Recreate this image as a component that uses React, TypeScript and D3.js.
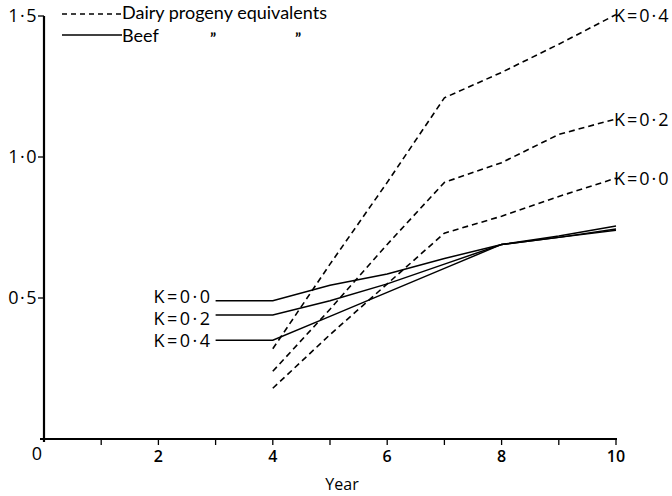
import React, { useEffect, useRef } from "react";
import * as d3 from "d3";

const years = [4, 5, 6, 7, 8, 9, 10];
const beefYears = [3, 4, 5, 6, 7, 8, 9, 10];

const dairyK00 = [0.18, 0.37, 0.55, 0.73, 0.79, 0.86, 0.925];
const dairyK02 = [0.24, 0.46, 0.69, 0.91, 0.98, 1.08, 1.135];
const dairyK04 = [0.32, 0.62, 0.91, 1.21, 1.3, 1.4, 1.505];

const beefK00 = [0.49, 0.49, 0.545, 0.585, 0.64, 0.69, 0.715, 0.74];
const beefK02 = [0.44, 0.44, 0.49, 0.55, 0.62, 0.69, 0.72, 0.755];
const beefK04 = [0.35, 0.35, 0.435, 0.52, 0.605, 0.69, 0.715, 0.745];

const dairyLabels = ["K=0·0", "K=0·2", "K=0·4"];
const beefLabels = ["K=0·0", "K=0·2", "K=0·4"];
const yTicks = [0.5, 1.0, 1.5];
const yTickLabels = ["0·5", "1·0", "1·5"];
const xTicks = [1, 2, 3, 4, 5, 6, 7, 8, 9, 10];
const xTickLabels = [2, 4, 6, 8, 10];

function App() {
  const ref = useRef<SVGSVGElement>(null);

  useEffect(() => {
    const svg = d3.select(ref.current);
    svg.selectAll("*").remove();
    const font = "'Open Sans', 'DejaVu Sans', sans-serif";
    const legendFont = "Lato, 'Open Sans', sans-serif";

    const x = d3.scaleLinear().domain([0, 10]).range([44, 616]);
    const y = d3.scaleLinear().domain([0, 1.5]).range([439, 16]);

    const g = svg.append("g");

    // axes
    g.append("line")
      .attr("x1", x(0)).attr("x2", x(0))
      .attr("y1", y(0) + 3).attr("y2", y(1.5))
      .attr("stroke", "#000").attr("stroke-width", 2.2);
    g.append("line")
      .attr("x1", x(0) - 4).attr("x2", x(10) + 1)
      .attr("y1", y(0)).attr("y2", y(0))
      .attr("stroke", "#000").attr("stroke-width", 2.2);

    g.selectAll(".ytick")
      .data(yTicks)
      .enter()
      .append("line")
      .attr("x1", x(0) - 6).attr("x2", x(0))
      .attr("y1", (d) => y(d)).attr("y2", (d) => y(d))
      .attr("stroke", "#000").attr("stroke-width", 1.3);
    g.selectAll(".ylab")
      .data(yTicks)
      .enter()
      .append("text")
      .attr("x", x(0) - 6)
      .attr("y", (d) => y(d) + 6)
      .attr("text-anchor", "end")
      .attr("font-family", font)
      .attr("font-size", 18)
      .attr("letter-spacing", 1.5)
      .text((d, i) => yTickLabels[i]);

    g.selectAll(".xtick")
      .data(xTicks)
      .enter()
      .append("line")
      .attr("x1", (d) => x(d)).attr("x2", (d) => x(d))
      .attr("y1", y(0)).attr("y2", y(0) + 6)
      .attr("stroke", "#000").attr("stroke-width", 1.3);
    g.selectAll(".xlab")
      .data(xTickLabels)
      .enter()
      .append("text")
      .attr("x", (d) => x(d))
      .attr("y", y(0) + 23)
      .attr("text-anchor", "middle")
      .attr("font-family", font)
      .attr("font-size", 16)
      .attr("font-weight", 600)
      .text((d) => d);
    g.append("text")
      .attr("x", x(0) - 7).attr("y", y(0) + 21)
      .attr("text-anchor", "middle")
      .attr("font-family", font).attr("font-size", 18)
      .text("0");
    g.append("text")
      .attr("x", 342).attr("y", 490)
      .attr("text-anchor", "middle")
      .attr("font-family", font).attr("font-size", 16)
      .text("Year");

    const line = d3
      .line<[number, number]>()
      .x((d) => x(d[0]))
      .y((d) => y(d[1]));

    const dairy = [dairyK00, dairyK02, dairyK04];
    dairy.forEach((vals) => {
      g.append("path")
        .attr("d", line(years.map((yr, i) => [yr, vals[i]])))
        .attr("fill", "none")
        .attr("stroke", "#000")
        .attr("stroke-width", 1.6)
        .attr("stroke-dasharray", "6,4");
    });
    dairy.forEach((vals, i) => {
      const last = vals[vals.length - 1];
      g.append("text")
        .attr("x", x(10) - 2)
        .attr("y", y(last) + 7)
        .attr("font-family", font)
        .attr("font-size", 18)
        .attr("letter-spacing", 2)
        .text(dairyLabels[i]);
    });

    const beef = [beefK00, beefK02, beefK04];
    beef.forEach((vals) => {
      g.append("path")
        .attr("d", line(beefYears.map((yr, i) => [yr, vals[i]])))
        .attr("fill", "none")
        .attr("stroke", "#000")
        .attr("stroke-width", 1.5);
    });
    beef.forEach((vals, i) => {
      g.append("text")
        .attr("x", x(3) - 3)
        .attr("y", y(0.5) + 5 + i * 22)
        .attr("text-anchor", "end")
        .attr("font-family", font)
        .attr("font-size", 18)
        .attr("letter-spacing", 2.5)
        .text(beefLabels[i]);
    });

    // legend
    g.append("line")
      .attr("x1", 62).attr("x2", 122).attr("y1", 14).attr("y2", 14)
      .attr("stroke", "#000").attr("stroke-width", 1.3)
      .attr("stroke-dasharray", "5,4");
    g.append("text")
      .attr("x", 122).attr("y", 19)
      .attr("font-family", legendFont).attr("font-size", 18)
      .text("Dairy progeny equivalents");
    g.append("line")
      .attr("x1", 62).attr("x2", 122).attr("y1", 35).attr("y2", 35)
      .attr("stroke", "#000").attr("stroke-width", 1.3);
    g.append("text")
      .attr("x", 122).attr("y", 42)
      .attr("font-family", legendFont).attr("font-size", 18)
      .text("Beef");
    [210, 295].forEach((px) => {
      g.append("text")
        .attr("x", px).attr("y", 44)
        .attr("font-family", legendFont).attr("font-size", 16)
        .attr("font-weight", 700)
        .text("\u201D");
    });
  }, []);

  return (
    <svg
      ref={ref}
      width={672}
      height={496}
      style={{ position: "absolute", left: 0, top: 0, background: "#fff" }}
    ></svg>
  );
}

export default App;
